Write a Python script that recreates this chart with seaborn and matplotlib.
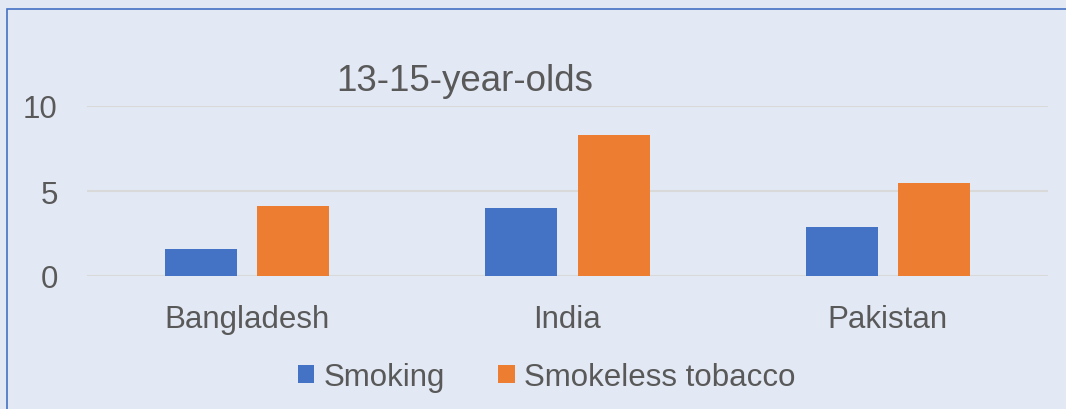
import matplotlib
matplotlib.use("Agg")
import matplotlib.pyplot as plt
from matplotlib.patches import Rectangle
import seaborn as sns
import pandas as pd

countries = ["Bangladesh", "India", "Pakistan"]
smoking = [1.6, 4.0, 2.9]
smokeless = [4.1, 8.3, 5.5]
series_names = ["Smoking", "Smokeless tobacco"]
title_text = "13-15-year-olds"
yticks = [0, 5, 10]

df = pd.DataFrame({
    "country": countries * 2,
    "value": smoking + smokeless,
    "series": [series_names[0]] * 3 + [series_names[1]] * 3,
})

sns.set_theme(style="white")
plt.rcParams["font.family"] = ["Liberation Sans", "DejaVu Sans"]

bg = "#E3E9F4"
txt = "#595959"
fig = plt.figure(figsize=(10.66, 4.10), dpi=100, facecolor=bg)
ax = fig.add_axes([87 / 1066, 1 - 277 / 410, (1048 - 87) / 1066, (277 - 107) / 410])
ax.set_facecolor(bg)

sns.barplot(data=df, x="country", y="value", hue="series", order=countries,
            hue_order=series_names, palette=["#4472C4", "#ED7D31"],
            width=0.575, gap=0.2174, saturation=1, ax=ax, legend=True,
            edgecolor="none", linewidth=0)

ax.set_ylim(0, 10)
ax.set_xlim(-0.5, 2.5)
ax.set_yticks(yticks)
ax.yaxis.grid(True, color="#D9D9D9", lw=1.5)
ax.set_axisbelow(True)
for s in ax.spines.values():
    s.set_visible(False)
ax.set_xlabel("")
ax.set_ylabel("")
ax.tick_params(axis="both", length=0, labelsize=22.5, labelcolor=txt)
ax.tick_params(axis="x", pad=20)
ax.tick_params(axis="y", pad=21)

handles, labels = ax.get_legend_handles_labels()
ax.get_legend().remove()
fig.legend(handles, labels, loc="center", bbox_to_anchor=(0.513, 1 - 378 / 410),
           ncol=2, frameon=False, fontsize=22.5, labelcolor=txt,
           handlelength=0.52, handleheight=0.52, handletextpad=0.3,
           columnspacing=1.7)

fig.text(465 / 1066, 1 - 82 / 410, title_text, ha="center", va="center",
         fontsize=26.5, color=txt)

fig.add_artist(Rectangle((6.5 / 1066, -0.2), 2, 1 - 9.5 / 410 + 0.2,
                         transform=fig.transFigure, fill=False,
                         ec="#4472C4", lw=1.2))

fig.savefig("out.png", dpi=100, facecolor=bg)
